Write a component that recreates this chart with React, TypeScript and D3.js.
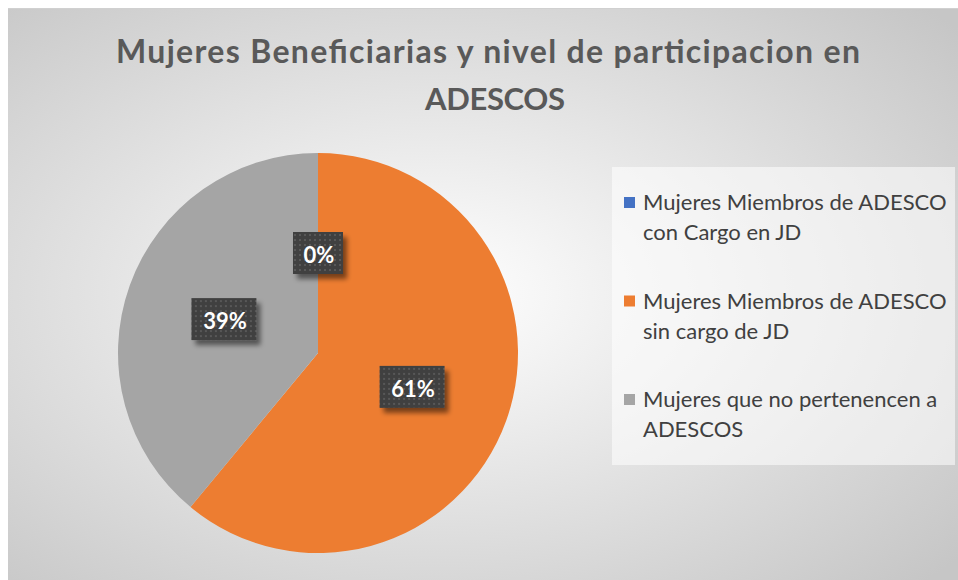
import React from 'react'
import * as d3 from 'd3'

// data
const categories = [
  'Mujeres Miembros de ADESCO con Cargo en JD',
  'Mujeres Miembros de ADESCO sin cargo de JD',
  'Mujeres que no pertenencen a ADESCOS',
]
const legendLines = [
  ['Mujeres Miembros de ADESCO', 'con Cargo en JD'],
  ['Mujeres Miembros de ADESCO', 'sin cargo de JD'],
  ['Mujeres que no pertenencen a', 'ADESCOS'],
]
const shares = [0, 61, 39]
const colors = ['#4472C4', '#ED7D31', '#A5A5A5']
const titleLines = ['Mujeres Beneficiarias y nivel de participacion en', 'ADESCOS']

const W = 950
const H = 572
const FONT = 'Lato, "Open Sans", sans-serif'

export default function App() {
  // pie geometry
  const cx = 310
  const cy = 345
  const radius = 200

  const pie = d3.pie<number>().sort(null).value(d => d)
  const arcs = pie(shares)
  const arc = d3.arc<d3.PieArcDatum<number>>().innerRadius(0).outerRadius(radius)
  const labelArc = d3.arc<d3.PieArcDatum<number>>().innerRadius(radius * 0.5).outerRadius(radius * 0.5)

  // title: width of each line as in the picture, centre x, baseline
  const titleFit = [
    { len: 744, x: 480, y: 55, size: 32 },
    { len: 140, x: 487, y: 102, size: 31 },
  ]

  return (
    <svg width={W} height={H} style={{ position: 'absolute', left: 8, top: 8, display: 'block' }}>
      <defs>
        <radialGradient id="bg" cx="0.45" cy="0.5" r="0.72">
          <stop offset="0" stopColor="#ffffff" />
          <stop offset="1" stopColor="#c6c6c6" />
        </radialGradient>
        <pattern id="dots" width="5" height="5" patternUnits="userSpaceOnUse">
          <rect width="5" height="5" fill="#404040" />
          <rect x="1" y="1" width="2" height="2" fill="#585858" />
        </pattern>
        <filter id="shadow" x="-30%" y="-30%" width="170%" height="180%">
          <feGaussianBlur in="SourceAlpha" stdDeviation="2.5" />
          <feOffset dx="4" dy="5" result="b" />
          <feComponentTransfer>
            <feFuncA type="linear" slope="0.5" />
          </feComponentTransfer>
          <feMerge>
            <feMergeNode />
            <feMergeNode in="SourceGraphic" />
          </feMerge>
        </filter>
      </defs>

      <rect x={0} y={0} width={W} height={H} fill="url(#bg)" />
      <line x1={0} y1={0.5} x2={W} y2={0.5} stroke="#d0d0d0" />

      {/* title */}
      {titleLines.map((t, i) => (
        <text key={i} x={titleFit[i].x} y={titleFit[i].y} textAnchor="middle"
          textLength={titleFit[i].len}
          fontFamily={FONT} fontWeight="bold" fontSize={titleFit[i].size} fill="#595959">{t}</text>
      ))}

      {/* slices */}
      <g transform={`translate(${cx},${cy})`}>
        {arcs.map((a, i) => (
          <path key={i} d={arc(a) || ''} fill={colors[i]} />
        ))}
        {arcs.map((a, i) => {
          const [lx, ly] = labelArc.centroid(a)
          const label = `${shares[i]}%`
          const bw = label.length * 15 + 20
          const bh = 42
          return (
            <g key={'l' + i} transform={`translate(${lx},${ly})`}>
              <rect x={-bw / 2} y={-bh / 2} width={bw} height={bh} fill="url(#dots)" filter="url(#shadow)" />
              <text x={1} y={10} textAnchor="middle" fontFamily={FONT} fontWeight="bold"
                fontSize={22} fill="#ffffff">{label}</text>
            </g>
          )
        })}
      </g>

      {/* legend */}
      <rect x={604} y={159} width={343} height={298} fill="#ffffff" fillOpacity={0.55} />
      {categories.map((c, i) => (
        <g key={c} transform={`translate(616,${202 + i * 98.5})`}>
          <rect x={0} y={-13} width={11} height={11} fill={colors[i]} />
          {legendLines[i].map((ln, j) => (
            <text key={j} x={19} y={j * 30} fontFamily={FONT} fontSize={22} fill="#404040">{ln}</text>
          ))}
        </g>
      ))}
    </svg>
  )
}
